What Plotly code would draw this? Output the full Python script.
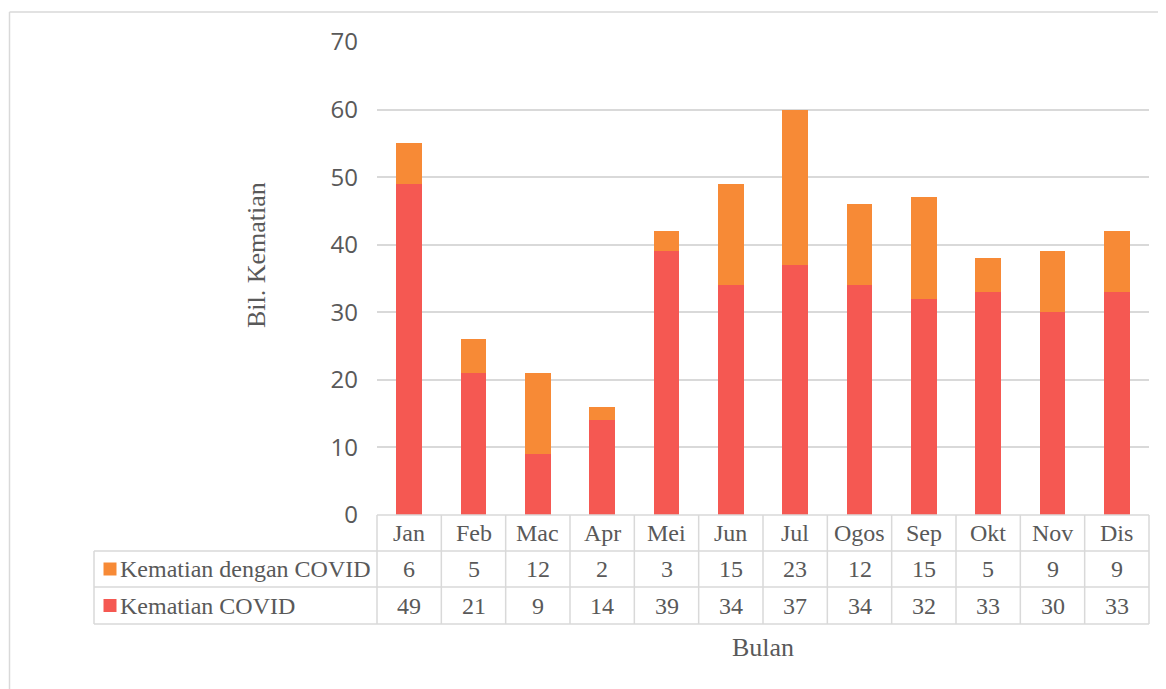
import plotly.graph_objects as go

months = ["Jan", "Feb", "Mac", "Apr", "Mei", "Jun", "Jul", "Ogos", "Sep", "Okt", "Nov", "Dis"]
kematian_covid = [49, 21, 9, 14, 39, 34, 37, 34, 32, 33, 30, 33]
kematian_dengan_covid = [6, 5, 12, 2, 3, 15, 23, 12, 15, 5, 9, 9]
series_names = ["Kematian COVID", "Kematian dengan COVID"]
y_ticks = [0, 10, 20, 30, 40, 50, 60, 70]

RED = "#F55852"
ORANGE = "#F78A36"
GRID = "#D9D9D9"
TXT = "#595959"
SERIF = "Liberation Serif, Times New Roman, serif"
SANS = "Open Sans, DejaVu Sans, sans-serif"

W, H = 1166, 689
OFF = 8                  # page body margin
PX0, PX1 = 377, 1149     # plot area x pixels
PY0, PY1 = 515, 42       # y pixel of 0 and 70
ROW_Y = [515, 551, 587, 624]
TABLE_LEFT = 94

def px(x):
    return (x - OFF) / W

def py(y):
    return 1 - (y - OFF) / H

fig = go.Figure()
fig.add_trace(go.Bar(x=months, y=kematian_covid, name=series_names[0],
                     marker=dict(color=RED, line=dict(width=0)), width=0.4))
fig.add_trace(go.Bar(x=months, y=kematian_dengan_covid, name=series_names[1],
                     marker=dict(color=ORANGE, line=dict(width=0)), width=0.4))

shapes = []
annotations = []
line = dict(color=GRID, width=1.5)

# outer chart border (top and left visible)
shapes.append(dict(type="line", xref="paper", yref="paper", x0=px(9.5), x1=1.02, y0=py(12), y1=py(12), line=line))
shapes.append(dict(type="line", xref="paper", yref="paper", x0=px(9.5), x1=px(9.5), y0=py(12), y1=-0.02, line=line))

# table horizontal lines
shapes.append(dict(type="line", xref="paper", yref="paper", x0=px(PX0), x1=px(PX1), y0=py(ROW_Y[0]), y1=py(ROW_Y[0]), line=line))
for ry in ROW_Y[1:]:
    shapes.append(dict(type="line", xref="paper", yref="paper", x0=px(TABLE_LEFT), x1=px(PX1), y0=py(ry), y1=py(ry), line=line))
shapes.append(dict(type="line", xref="paper", yref="paper", x0=px(TABLE_LEFT), x1=px(TABLE_LEFT), y0=py(ROW_Y[1]), y1=py(ROW_Y[3]), line=line))
n = len(months)
colw = (PX1 - PX0) / n
for k in range(n + 1):
    xx = PX0 + k * colw
    shapes.append(dict(type="line", xref="paper", yref="paper", x0=px(xx), x1=px(xx), y0=py(ROW_Y[0]), y1=py(ROW_Y[3]), line=line))

# table text
tfont = dict(family=SERIF, size=24, color=TXT)
rows = [(kematian_dengan_covid, series_names[1], ORANGE), (kematian_covid, series_names[0], RED)]
for k, m in enumerate(months):
    cx = PX0 + (k + 0.5) * colw
    annotations.append(dict(x=px(cx), y=py((ROW_Y[0] + ROW_Y[1]) / 2), xref="paper", yref="paper",
                            xanchor="center", yanchor="middle", text=m, showarrow=False, font=tfont))
    for r, (vals, _, _) in enumerate(rows):
        annotations.append(dict(x=px(cx), y=py((ROW_Y[r + 1] + ROW_Y[r + 2]) / 2), xref="paper", yref="paper",
                                xanchor="center", yanchor="middle", text=str(vals[k]), showarrow=False, font=tfont))
for r, (_, name, col) in enumerate(rows):
    cy = (ROW_Y[r + 1] + ROW_Y[r + 2]) / 2
    shapes.append(dict(type="rect", xref="paper", yref="paper", x0=px(103.5), x1=px(116.5), y0=py(cy + 6.5), y1=py(cy - 6.5),
                       fillcolor=col, line=dict(width=0)))
    annotations.append(dict(x=px(118), y=py(cy), xref="paper", yref="paper", xanchor="left", yanchor="middle",
                            text=name, showarrow=False, font=tfont))

# axis titles
annotations.append(dict(x=px(257), y=py(255), xref="paper", yref="paper", text="Bil. Kematian", textangle=-90,
                        xanchor="center", yanchor="middle",
                        showarrow=False, font=dict(family=SERIF, size=26, color=TXT)))
annotations.append(dict(x=px(763), y=py(647), xref="paper", yref="paper", text="Bulan",
                        xanchor="center", yanchor="middle",
                        showarrow=False, font=dict(family=SERIF, size=26, color=TXT)))

fig.update_layout(
    width=W, height=H,
    margin=dict(l=0, r=0, t=0, b=0, autoexpand=False),
    paper_bgcolor="white", plot_bgcolor="white",
    barmode="stack",
    showlegend=False,
    xaxis=dict(domain=[px(PX0), px(PX1)], showticklabels=False, showgrid=False, zeroline=False,
               showline=False, ticks="", automargin=False),
    yaxis=dict(domain=[py(PY0), py(PY1)], range=[0, 70], tickvals=y_ticks, showgrid=True,
               gridcolor=GRID, gridwidth=1.5, zeroline=False, showline=False, ticks="",
               ticklabelstandoff=18, automargin=False,
               tickfont=dict(family=SANS, size=24, color=TXT)),
    shapes=shapes,
    annotations=annotations,
)

fig.write_html("out.html")
